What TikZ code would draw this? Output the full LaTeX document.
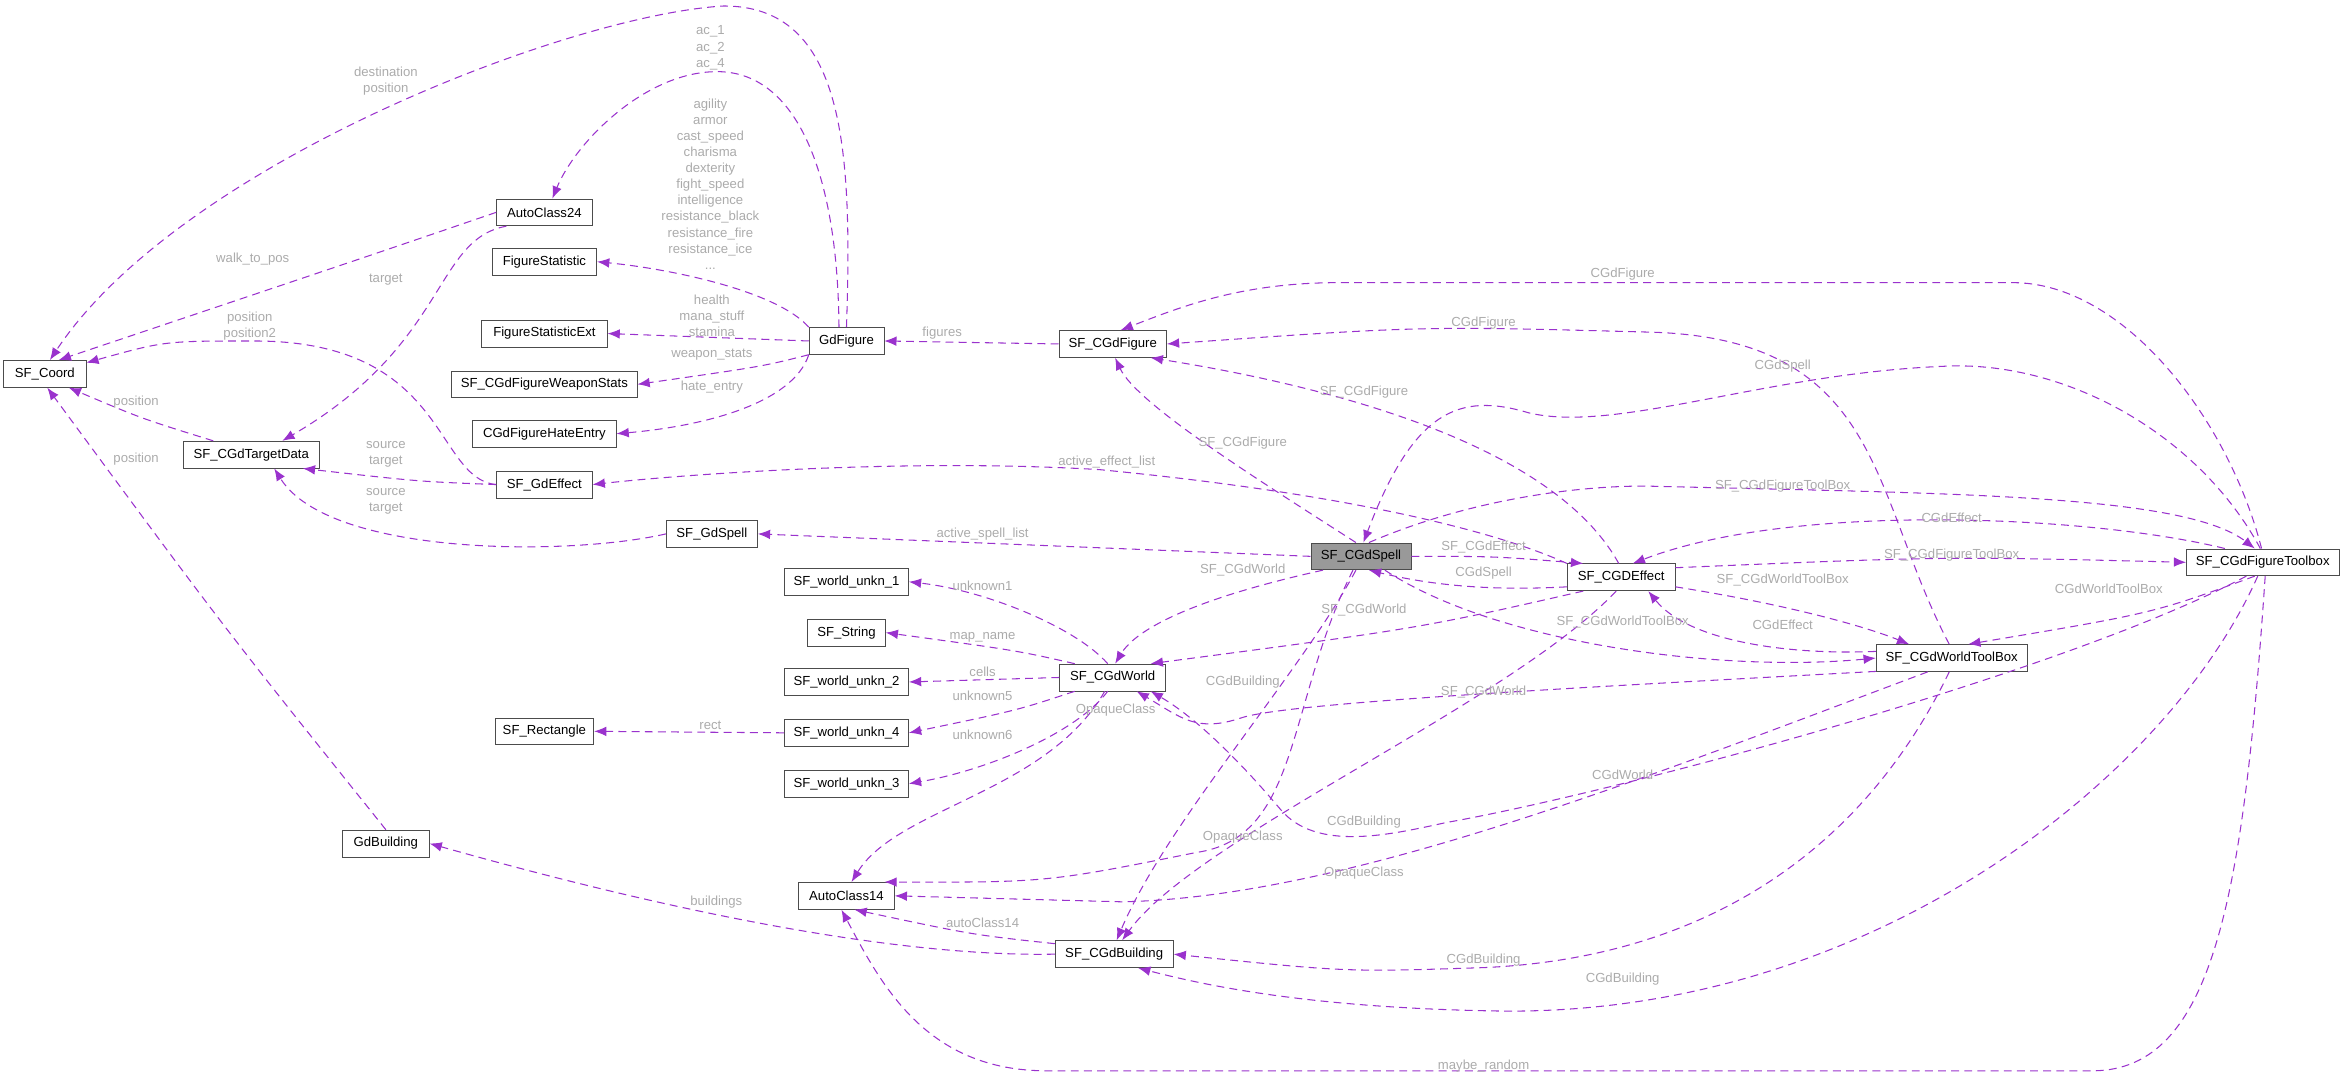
\documentclass[tikz,border=0pt]{standalone}
\usepackage{fontspec}
\setmainfont{Liberation Sans}
\usetikzlibrary{arrows.meta}
\definecolor{edge}{HTML}{9A32CD}
\definecolor{lab}{HTML}{ABABAB}
\tikzset{
 cls/.style={draw=black!70, fill=white, font=\fontsize{7.5}{9}\selectfont, inner sep=1pt, minimum height=0.54cm},
 dep/.style={draw=edge, dash pattern=on 4.5pt off 3pt, line width=0.6pt, -{Latex[length=7pt,width=5.5pt]}},
 lbl/.style={text=lab, font=\fontsize{7.5}{9.2}\selectfont, align=center, inner sep=0}
}
\begin{document}
\begin{tikzpicture}[x=0.03cm,y=-0.03cm]
\useasboundingbox (0,0) rectangle (1568,721.5);
% nodes
\node[cls,minimum width=55*0.03cm] (coord) at (30,250) {SF\_Coord};
\node[cls,minimum width=64*0.03cm] (ac24) at (364,142) {AutoClass24};
\node[cls,minimum width=70*0.03cm] (fstat) at (364,175) {FigureStatistic};
\node[cls,minimum width=84*0.03cm] (fstatx) at (364,223) {FigureStatisticExt};
\node[cls,minimum width=124*0.03cm] (wstats) at (364,257) {SF\_CGdFigureWeaponStats};
\node[cls,minimum width=96*0.03cm] (hate) at (364,290) {CGdFigureHateEntry};
\node[cls,minimum width=50*0.03cm] (gdfig) at (566,228) {GdFigure};
\node[cls,minimum width=91*0.03cm] (target) at (168,304) {SF\_CGdTargetData};
\node[cls,minimum width=64*0.03cm] (gdeff) at (364,324) {SF\_GdEffect};
\node[cls,minimum width=61*0.03cm] (gdspell) at (476,357) {SF\_GdSpell};
\node[cls,minimum width=72*0.03cm] (cfig) at (744,230) {SF\_CGdFigure};
\node[cls,minimum width=67*0.03cm,fill=black!40] (spell) at (910,372) {SF\_CGdSpell};
\node[cls,minimum width=72*0.03cm] (ceff) at (1084,386) {SF\_CGDEffect};
\node[cls,minimum width=102*0.03cm] (ftb) at (1513,376) {SF\_CGdFigureToolbox};
\node[cls,minimum width=101*0.03cm] (wtb) at (1305,440) {SF\_CGdWorldToolBox};
\node[cls,minimum width=83*0.03cm] (wu1) at (566,389) {SF\_world\_unkn\_1};
\node[cls,minimum width=52*0.03cm] (str) at (566,423) {SF\_String};
\node[cls,minimum width=83*0.03cm] (wu2) at (566,456) {SF\_world\_unkn\_2};
\node[cls,minimum width=83*0.03cm] (wu4) at (566,490) {SF\_world\_unkn\_4};
\node[cls,minimum width=83*0.03cm] (wu3) at (566,524) {SF\_world\_unkn\_3};
\node[cls,minimum width=71*0.03cm] (world) at (744,453) {SF\_CGdWorld};
\node[cls,minimum width=64*0.03cm] (ac14) at (566,599) {AutoClass14};
\node[cls,minimum width=79*0.03cm] (bld) at (745,638) {SF\_CGdBuilding};
\node[cls,minimum width=66*0.03cm] (rect) at (364,489) {SF\_Rectangle};
\node[cls,minimum width=58*0.03cm] (gdbld) at (258,564) {GdBuilding};
% edges
\draw[dep] (gdfig.north) .. controls (570,100) and (565,4) .. (484,4) .. controls (380,10) and (120,110) .. (coord.70);
\draw[dep] ([xshift=-0.15cm]gdfig.north) .. controls (560,110) and (530,45) .. (476,48) .. controls (430,50) and (385,95) .. (ac24.60);
\draw[dep] (gdfig.north west) .. controls (520,195) and (450,180) .. (fstat.east);
\draw[dep] (gdfig.west) -- (fstatx.east);
\draw[dep] (gdfig.200) .. controls (510,245) .. (wstats.east);
\draw[dep] (gdfig.south west) .. controls (530,270) and (470,285) .. (hate.east);
\draw[dep] (ac24.west) .. controls (250,170) .. (coord.45);
\draw[dep] (ac24.200) .. controls (290,160) and (300,230) .. (target.24);
\draw[dep] (target.160) .. controls (95,280) .. (coord.-30);
\draw[dep] (gdbld.north) .. controls (150,420) .. (coord.-80);
\draw[dep] (gdeff.west) .. controls (290,320) and (300,228) .. (170,228) .. controls (110,228) .. (coord.15);
\draw[dep] (gdeff.west) .. controls (280,322) .. (target.-15);
\draw[dep] (gdspell.west) .. controls (380,372) and (220,372) .. (target.-31);
\draw[dep] (cfig.west) -- (gdfig.east);
\draw[dep] (spell.west) -- (gdspell.east);
\draw[dep] (ceff.north west) .. controls (1000,355) and (900,330) .. (735,314) .. controls (600,306) and (450,318) .. (gdeff.east);
\draw[dep] (spell.110) .. controls (840,320) and (760,270) .. (cfig.-80);
\draw[dep] (ceff.100) .. controls (1040,300) and (900,260) .. (cfig.-20);
\draw[dep] (wtb.100) .. controls (1250,330) and (1260,225) .. (1100,222) .. controls (950,218) .. (cfig.east);
\draw[dep] (ftb.95) .. controls (1490,280) and (1420,189) .. (1346,189) -- (895,189) .. controls (830,189) and (790,205) .. (cfig.60);
\draw[dep] (ftb.100) .. controls (1470,290) and (1380,240) .. (1298,245) .. controls (1180,250) and (1080,290) .. (1022,276) .. controls (975,262) and (945,275) .. (spell.80);
\draw[dep] (spell.60) .. controls (980,335) and (1050,325) .. (1100,325) .. controls (1300,330) and (1460,330) .. (ftb.120);
\draw[dep] (spell.east) .. controls (1000,372) .. (ceff.160);
\draw[dep] (ceff.190) .. controls (1000,395) and (960,392) .. (spell.-60);
\draw[dep] (ftb.160) .. controls (1400,345) and (1200,335) .. (ceff.50);
\draw[dep] (ceff.10) .. controls (1300,372) .. (ftb.west);
\draw[dep] (ceff.-10) .. controls (1200,405) and (1250,420) .. (wtb.162);
\draw[dep] (wtb.175) .. controls (1200,438) and (1130,430) .. (ceff.-27);
\draw[dep] (spell.-30) .. controls (1000,430) and (1150,450) .. (wtb.west);
\draw[dep] (ftb.-120) .. controls (1440,410) .. (wtb.40);
\draw[dep] (spell.200) .. controls (800,400) and (760,420) .. (world.80);
\draw[dep] (ceff.200) .. controls (950,420) .. (world.20);
\draw[dep] (wtb.190) .. controls (1050,460) and (860,470) .. (830,480) .. controls (800,490) and (790,480) .. (world.-30);
\draw[dep] (ftb.-140) .. controls (1380,450) and (1080,530) .. (967,550) .. controls (930,558) and (880,570) .. (856,541) .. controls (830,510) and (800,480) .. (world.-20);
\draw[dep] (spell.-110) .. controls (870,450) and (780,550) .. (bld.80);
\draw[dep] (ceff.-110) .. controls (1010,470) and (800,560) .. (bld.60);
\draw[dep] (world.-120) .. controls (700,530) and (600,540) .. (ac14.70);
\draw[dep] (spell.-120) .. controls (860,470) and (870,560) .. (800,570) .. controls (700,590) .. (ac14.20);
\draw[dep] (wtb.-150) .. controls (1100,520) and (900,600) .. (750,603) -- (ac14.east);
\draw[dep] (wtb.-100) .. controls (1250,560) and (1150,640) .. (992,647) .. controls (900,650) .. (bld.east);
\draw[dep] (ftb.-110) .. controls (1450,520) and (1250,680) .. (1001,676) .. controls (880,674) and (810,660) .. (bld.-30);
\draw[dep] (bld.west) .. controls (600,640) and (450,610) .. (gdbld.east);
\draw[dep] (bld.170) .. controls (650,625) .. (ac14.-60);
\draw[dep] (ftb.-80) .. controls (1500,600) and (1480,715) .. (1400,716) -- (700,716) .. controls (620,716) and (590,660) .. (ac14.-110);
\draw[dep] (world.110) .. controls (720,420) and (660,395) .. (wu1.east);
\draw[dep] (world.160) .. controls (680,435) .. (str.east);
\draw[dep] (world.west) -- (wu2.east);
\draw[dep] (world.-160) .. controls (680,475) .. (wu4.east);
\draw[dep] (world.-110) .. controls (720,490) and (660,515) .. (wu3.east);
\draw[dep] (wu4.west) -- (rect.east);
% labels
\node[lbl] (l1) at (258,54) {destination\\position};
\node[lbl] (l2) at (475,32) {ac\_1\\ac\_2\\ac\_4};
\node[lbl] (l3) at (475,123) {agility\\armor\\cast\_speed\\charisma\\dexterity\\fight\_speed\\intelligence\\resistance\_black\\resistance\_fire\\resistance\_ice\\...};
\node[lbl] (l4) at (169,173) {walk\_to\_pos};
\node[lbl] (l5) at (258,187) {target};
\node[lbl] (l6) at (167,218) {position\\position2};
\node[lbl] (l7) at (476,211) {health\\mana\_stuff\\stamina};
\node[lbl] (l8) at (476,237) {weapon\_stats};
\node[lbl] (l9) at (476,259) {hate\_entry};
\node[lbl] (l10) at (91,269) {position};
\node[lbl] (l11) at (91,307) {position};
\node[lbl] (l12) at (258,304) {source\\target};
\node[lbl] (l13) at (258,335) {source\\target};
\node[lbl] (l14) at (630,223) {figures};
\node[lbl] (l15) at (657,357) {active\_spell\_list};
\node[lbl] (l16) at (740,309) {active\_effect\_list};
\node[lbl] (l17) at (831,381) {SF\_CGdWorld};
\node[lbl] (l18) at (657,392) {unknown1};
\node[lbl] (l19) at (657,426) {map\_name};
\node[lbl] (l20) at (657,449) {cells};
\node[lbl] (l21) at (657,465) {unknown5};
\node[lbl] (l22) at (657,491) {unknown6};
\node[lbl] (l23) at (475,485) {rect};
\node[lbl] (l24) at (992,366) {SF\_CGdEffect};
\node[lbl] (l25) at (992,383) {CGdSpell};
\node[lbl] (l26) at (912,408) {SF\_CGdWorld};
\node[lbl] (l27) at (1085,416) {SF\_CGdWorldToolBox};
\node[lbl] (l28) at (1192,418) {CGdEffect};
\node[lbl] (l29) at (1192,388) {SF\_CGdWorldToolBox};
\node[lbl] (l30) at (1305,371) {SF\_CGdFigureToolBox};
\node[lbl] (l31) at (1305,346) {CGdEffect};
\node[lbl] (l32) at (831,456) {CGdBuilding};
\node[lbl] (l33) at (746,475) {OpaqueClass};
\node[lbl] (l34) at (992,463) {SF\_CGdWorld};
\node[lbl] (l35) at (1085,518) {CGdWorld};
\node[lbl] (l36) at (912,550) {CGdBuilding};
\node[lbl] (l37) at (831,560) {OpaqueClass};
\node[lbl] (l38) at (912,584) {OpaqueClass};
\node[lbl] (l39) at (657,617) {autoClass14};
\node[lbl] (l40) at (479,603) {buildings};
\node[lbl] (l41) at (992,642) {CGdBuilding};
\node[lbl] (l42) at (1085,655) {CGdBuilding};
\node[lbl] (l43) at (992,713) {maybe\_random};
\node[lbl] (l44) at (1085,183) {CGdFigure};
\node[lbl] (l45) at (992,216) {CGdFigure};
\node[lbl] (l46) at (1192,245) {CGdSpell};
\node[lbl] (l47) at (912,262) {SF\_CGdFigure};
\node[lbl] (l48) at (831,296) {SF\_CGdFigure};
\node[lbl] (l49) at (1192,325) {SF\_CGdFigureToolBox};
\node[lbl] (l50) at (1410,394) {CGdWorldToolBox};
\end{tikzpicture}
\end{document}
